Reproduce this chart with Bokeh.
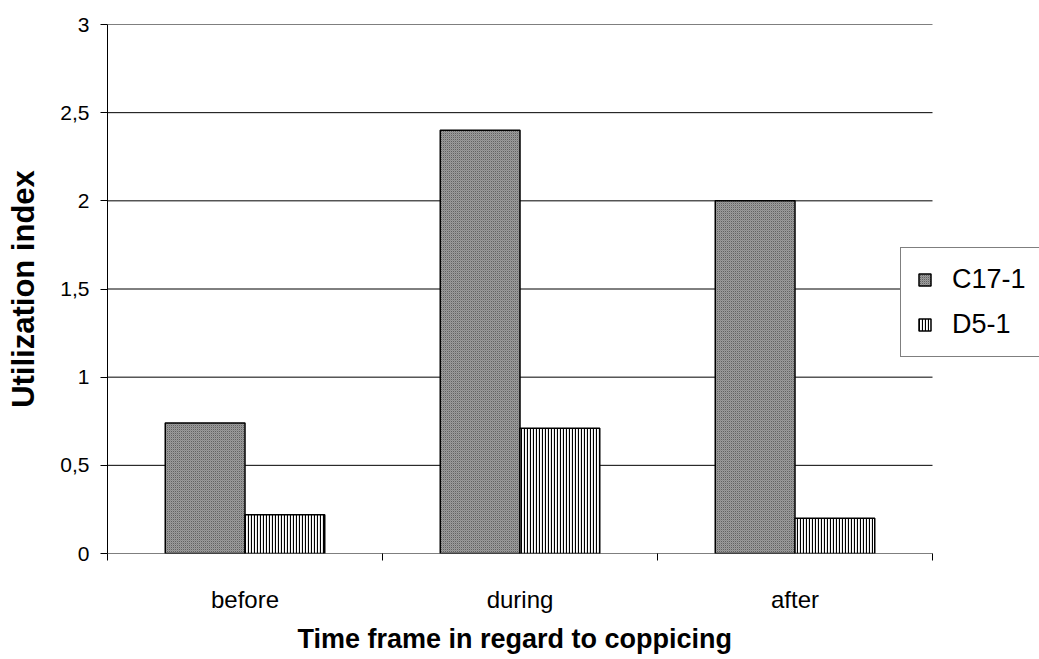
from bokeh.plotting import figure
from bokeh.models import (ColumnDataSource, Range1d, FixedTicker, CustomJSTickFormatter,
                          Legend, LegendItem, Title)
from bokeh.embed import file_html
from bokeh.resources import INLINE

categories = ["before", "during", "after"]
c17 = [0.74, 2.40, 2.00]
d5 = [0.22, 0.71, 0.20]
y_ticks = [0, 0.5, 1, 1.5, 2, 2.5, 3]
series_names = ["C17-1", "D5-1"]
x_title = "Time frame in regard to coppicing"
y_title = "Utilization index"

FONT = "Liberation Sans"
n = len(categories)
bar_w = 0.29
idx = list(range(n))
src = ColumnDataSource(dict(
    cat=categories, c17=c17, d5=d5,
    x1=[i + 0.5 - bar_w / 2 for i in idx],
    x2=[i + 0.5 + bar_w / 2 for i in idx],
))

# frame spans from x=107 to the window edge; categories occupy the first 825 px
LEFT, PLOT_W, TOTAL_W = 107, 825, 1039
x_end = n * (TOTAL_W - LEFT) / PLOT_W

p = figure(width=TOTAL_W, height=659, x_range=Range1d(0, x_end), y_range=Range1d(0, 3),
           output_backend="svg", toolbar_location=None,
           min_border_left=LEFT, min_border_right=0, min_border_top=24, min_border_bottom=105)
p.outline_line_color = None
p.background_fill_color = "white"
p.border_fill_color = "white"

# horizontal gridlines limited to the category area
p.segment(x0=[0] * len(y_ticks), x1=[n] * len(y_ticks), y0=y_ticks, y1=y_ticks,
          line_color="black", line_width=1)

r1 = p.vbar(x="x1", top="c17", width=bar_w, source=src,
            fill_color="#b4b4b4", line_color="black", line_width=1.5,
            hatch_pattern="criss_cross", hatch_scale=2, hatch_color="#555555",
            hatch_weight=0.5)
r2 = p.vbar(x="x2", top="d5", width=bar_w, source=src,
            fill_color="white", line_color="black", line_width=1.5,
            hatch_pattern="vertical_line", hatch_scale=3, hatch_color="black",
            hatch_weight=1.2)

# x axis
p.xaxis.ticker = FixedTicker(ticks=[i + 0.5 for i in idx], minor_ticks=list(range(n + 1)))
p.xaxis.formatter = CustomJSTickFormatter(args=dict(labels=categories),
                                          code="return labels[Math.floor(tick)];")
p.xaxis.major_tick_line_color = None
p.xaxis.minor_tick_line_color = "black"
p.xaxis.minor_tick_out = 7
p.xaxis.minor_tick_in = 0
p.xaxis.axis_line_color = None
p.xaxis.major_label_text_font = FONT
p.xaxis.major_label_text_font_size = "24px"
p.xaxis.major_label_text_color = "black"
p.xaxis.major_label_standoff = 25

# x title placed under the category area (not centred on the extended frame)
xt = Title(text=x_title, align="left", offset=190,
           text_font=FONT, text_font_style="bold", text_font_size="27px",
           text_color="black", standoff=12)
p.add_layout(xt, "below")

# y axis
p.yaxis.ticker = FixedTicker(ticks=y_ticks, minor_ticks=[])
p.yaxis.formatter = CustomJSTickFormatter(code="return tick.toString().replace('.', ',');")
p.yaxis.major_tick_line_color = "black"
p.yaxis.major_tick_out = 7
p.yaxis.major_tick_in = 0
p.yaxis.minor_tick_line_color = None
p.yaxis.axis_line_color = "black"
p.yaxis.major_label_text_font = FONT
p.yaxis.major_label_text_font_size = "21px"
p.yaxis.major_label_text_color = "black"
p.yaxis.major_label_standoff = 11
p.yaxis.axis_label = y_title
p.yaxis.axis_label_text_font = FONT
p.yaxis.axis_label_text_font_style = "bold"
p.yaxis.axis_label_text_font_size = "31px"
p.yaxis.axis_label_text_color = "black"
p.yaxis.axis_label_standoff = 16

p.xgrid.visible = False
p.ygrid.visible = False

legend = Legend(items=[LegendItem(label=series_names[0], renderers=[r1]),
                       LegendItem(label=series_names[1], renderers=[r2])],
                location=(793, 196))
legend.label_text_font = FONT
legend.label_text_font_size = "27px"
legend.label_text_color = "black"
legend.glyph_width = 15
legend.glyph_height = 15
legend.label_height = 31
legend.label_standoff = 20
legend.spacing = 14
legend.padding = 16
legend.margin = 0
legend.border_line_color = "black"
legend.border_line_width = 1
legend.background_fill_color = "white"
legend.background_fill_alpha = 1
p.add_layout(legend)

open("out.html", "w").write(file_html(p, INLINE))
